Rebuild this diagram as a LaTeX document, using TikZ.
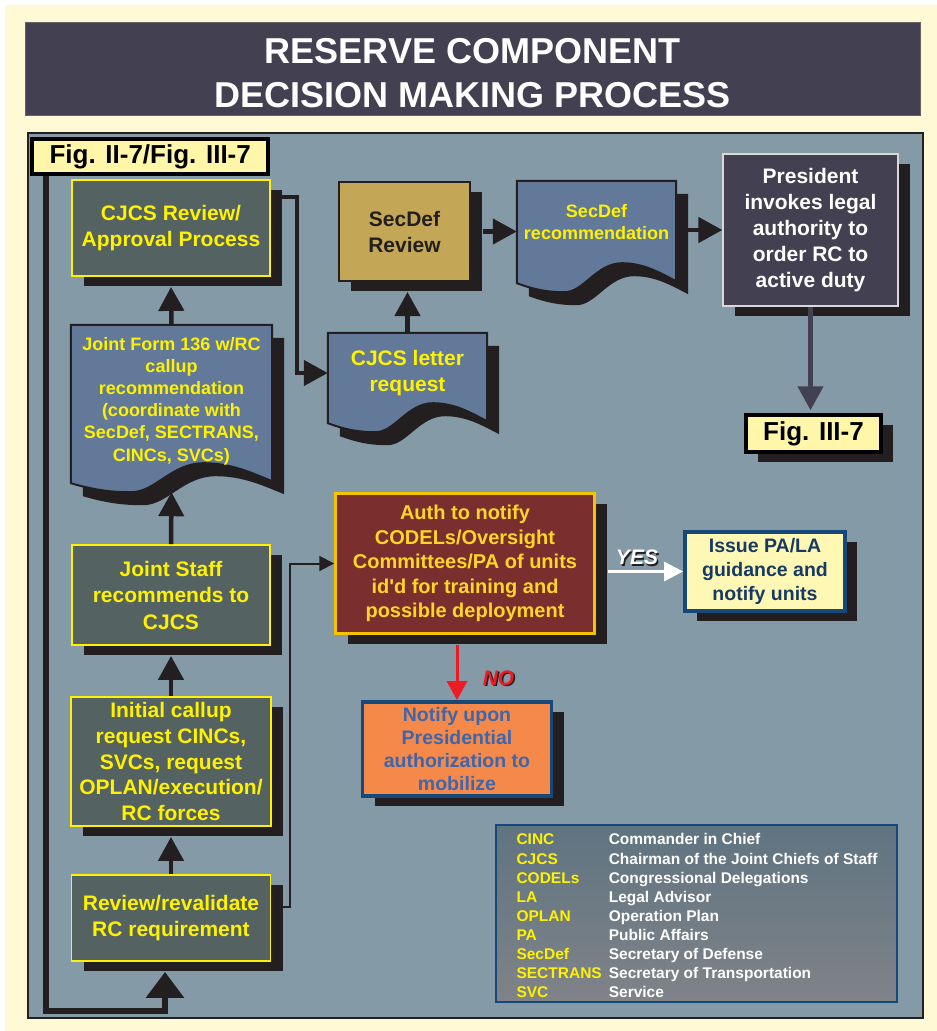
\documentclass[tikz,border=0pt]{standalone}
\usepackage{fontspec}
\setmainfont{Liberation Sans}
\usetikzlibrary{arrows.meta,calc,shadows}

\pgfdeclarelayer{backdrop}
\pgfdeclarelayer{docs}
\pgfsetlayers{backdrop,docs,main}

\definecolor{creambg}{RGB}{255,249,214}
\definecolor{panelc}{RGB}{133,154,167}
\definecolor{titlec}{RGB}{67,64,82}
\definecolor{boxgray}{RGB}{84,99,98}
\definecolor{docblue}{RGB}{98,121,153}
\definecolor{shadowc}{RGB}{35,31,32}
\definecolor{yel}{RGB}{255,242,0}
\definecolor{figyel}{RGB}{255,246,170}
\definecolor{secdefc}{RGB}{196,167,86}
\definecolor{maroon}{RGB}{122,46,46}
\definecolor{authline}{RGB}{245,196,0}
\definecolor{authtext}{RGB}{255,214,40}
\definecolor{navyc}{RGB}{22,72,122}
\definecolor{issuefill}{RGB}{255,248,180}
\definecolor{issuetext}{RGB}{22,58,100}
\definecolor{orangec}{RGB}{245,137,74}
\definecolor{notifytext}{RGB}{62,102,172}
\definecolor{legtop}{RGB}{95,116,129}
\definecolor{legbot}{RGB}{128,131,136}
\definecolor{noc}{RGB}{237,28,36}

% page with a wavy bottom: node, extra depth, x offset, y offset
\newcommand\docpath[4]{let \p1=(#1.north west), \p2=(#1.south east),
    \n1={\x2-\x1}, \n2={\y2-#2pt} in
  ({\x1+#3pt},{\y1+#4pt}) -- ({\x2+#3pt},{\y1+#4pt}) -- ({\x2+#3pt},{\n2*1pt+2pt+#4pt})
  .. controls ({\x1+0.9*\n1*1pt+#3pt},{\n2*1pt+10pt+#4pt}) and ({\x1+0.8*\n1*1pt+#3pt},{\n2*1pt+20pt+#4pt})
  .. ({\x1+0.66*\n1*1pt+#3pt},{\n2*1pt+20pt+#4pt})
  .. controls ({\x1+0.5*\n1*1pt+#3pt},{\n2*1pt+20pt+#4pt}) and ({\x1+0.42*\n1*1pt+#3pt},{\n2*1pt-9pt+#4pt})
  .. ({\x1+0.3*\n1*1pt+#3pt},{\n2*1pt-9pt+#4pt})
  .. controls ({\x1+0.2*\n1*1pt+#3pt},{\n2*1pt-9pt+#4pt}) and ({\x1+0.12*\n1*1pt+#3pt},{\n2*1pt-7pt+#4pt})
  .. ({\x1+#3pt},{\n2*1pt+#4pt}) -- cycle}

\begin{document}
\begin{tikzpicture}[x=1pt, y=-1pt,
    every node/.style={inner sep=0pt, align=center},
    boxshadow/.style={drop shadow={shadow xshift=12pt, shadow yshift=-10pt, fill=shadowc, opacity=1}},
    darkbox/.style={draw=yel, line width=1.8pt, fill=boxgray, text=yel, boxshadow,
      font=\bfseries\fontsize{21}{26.5}\selectfont},
    docbox/.style={text=yel, font=\bfseries\fontsize{18}{22.2}\selectfont},
    docshape/.style={draw=shadowc, line width=2pt, fill=docblue},
    figbox/.style={draw=black, line width=3.5pt, fill=figyel, font=\bfseries\fontsize{26}{30}\selectfont},
    flowarrow/.style={draw=shadowc, line width=4.5pt, -{Triangle[width=25pt,length=24pt]}},
    looparrow/.style={draw=shadowc, line width=6pt, -{Triangle[width=37pt,length=26pt]}},
    thinarrow/.style={draw=shadowc, line width=2pt, -{Triangle[width=15pt,length=15pt]}},
    slatearrow/.style={draw=titlec, line width=4.5pt, -{Triangle[width=25pt,length=24pt]}},
    yesarrow/.style={draw=white, line width=3pt, -{Triangle[width=19pt,length=19pt]}},
    noarrow/.style={draw=noc, line width=3pt, -{Triangle[width=20pt,length=19pt]}},
    yesno/.style={font=\bfseries\itshape\fontsize{21}{24}\selectfont}
  ]
  \useasboundingbox (0,0) rectangle (937,1031);
  \begin{pgfonlayer}{backdrop}
    \fill[white] (0,0) rectangle (937,1031);
    \fill[creambg] (5,5) rectangle (937,1031);
    \filldraw[fill=panelc, draw=shadowc, line width=1.5pt] (28,133) rectangle (923,1018);
  \end{pgfonlayer}

  \node[fill=titlec, draw=shadowc!70, line width=1pt, minimum width=895pt, minimum height=93pt] (title) at (472.5,68.5) {};
  \node[text=white, font=\bfseries\fontsize{36}{43.4}\selectfont] (titletext) at (472.5,73)
    {RESERVE COMPONENT\\DECISION MAKING PROCESS};

  \node[figbox, minimum width=236pt, minimum height=35pt] (figtop) at (150.2,156.5) {Fig. II-7/Fig. III-7};

  \node[darkbox, minimum width=198pt, minimum height=96pt] (cjcsrev) at (171,228) {CJCS Review/\\Approval Process};
  \node[docbox, minimum width=201pt, minimum height=152pt] (jform) at (171.5,401)
    {Joint Form 136 w/RC\\callup\\recommendation\\(coordinate with\\SecDef, SECTRANS,\\CINCs, SVCs)};
  \node[darkbox, minimum width=198pt, minimum height=100pt] (jstaff) at (171,595) {Joint Staff\\recommends to\\CJCS};
  \node[darkbox, minimum width=200pt, minimum height=129pt, font=\bfseries\fontsize{21}{25.8}\selectfont] (initial) at (171,761.5)
    {Initial callup\\request CINCs,\\SVCs, request\\OPLAN/execution/\\RC forces};
  \node[darkbox, minimum width=199pt, minimum height=86pt] (review) at (171,918) {Review/revalidate\\RC requirement};

  \node[draw=shadowc, line width=2pt, fill=secdefc, text=shadowc, boxshadow, minimum width=131pt, minimum height=99pt,
    font=\bfseries\fontsize{21}{26}\selectfont] (secrev) at (404.5,231.5) {SecDef\\Review};
  \node[docbox, font=\bfseries\fontsize{21}{25.7}\selectfont, minimum width=159pt, minimum height=80pt] (letter) at (407.5,373)
    {CJCS letter\\request};
  \node[docbox, font=\bfseries\fontsize{18}{22}\selectfont, minimum width=159pt, minimum height=82pt] (secrec) at (596.5,222)
    {SecDef\\recommendation};
  \node[draw=black!15, line width=1.2pt, fill=titlec, text=white, boxshadow, minimum width=175pt, minimum height=152pt,
    font=\bfseries\fontsize{21}{26}\selectfont] (pres) at (810.5,230)
    {President\\invokes legal\\authority to\\order RC to\\active duty};
  \node[figbox, boxshadow, minimum width=135pt, minimum height=37pt] (fig3) at (813.5,433.5) {Fig. III-7};

  \node[draw=authline, line width=2.5pt, fill=maroon, text=authtext, boxshadow, minimum width=259pt, minimum height=140pt,
    font=\bfseries\fontsize{20}{24.6}\selectfont] (auth) at (465,563.5)
    {Auth to notify\\CODELs/Oversight\\Committees/PA of units\\id\textquotesingle d for training and\\possible deployment};
  \node[draw=navyc, line width=3.8pt, fill=issuefill, text=issuetext, boxshadow, minimum width=160pt, minimum height=79pt,
    font=\bfseries\fontsize{19.5}{24}\selectfont] (issue) at (765,571.5) {Issue PA/LA\\guidance and\\notify units};
  \node[draw=navyc, line width=3.8pt, fill=orangec, text=notifytext, boxshadow, minimum width=189pt, minimum height=94pt,
    font=\bfseries\fontsize{19.5}{23}\selectfont] (notify) at (457,749)
    {Notify upon\\Presidential\\authorization to\\mobilize};

  \node[yesno, text=shadowc] (yesshade) at (638.5,559) {YES};
  \node[yesno, text=white] (yes) at (637,557.5) {YES};
  \node[yesno, text=shadowc] (noshade) at (500,679.5) {NO};
  \node[yesno, text=noc] (no) at (498.5,678) {NO};

  \node[draw=navyc, line width=1.2pt, top color=legtop, bottom color=legbot,
    minimum width=401pt, minimum height=177pt] (legend) at (696.5,913.5) {};
  \node[text=white, font=\bfseries\fontsize{15.5}{19.1}\selectfont] (legendtext) at (697,917.5) {%
    \begin{tabular}{@{}l@{\hspace{7pt}}l@{}}
      \textcolor{yel}{CINC} & Commander in Chief\\
      \textcolor{yel}{CJCS} & Chairman of the Joint Chiefs of Staff\\
      \textcolor{yel}{CODELs} & Congressional Delegations\\
      \textcolor{yel}{LA} & Legal Advisor\\
      \textcolor{yel}{OPLAN} & Operation Plan\\
      \textcolor{yel}{PA} & Public Affairs\\
      \textcolor{yel}{SecDef} & Secretary of Defense\\
      \textcolor{yel}{SECTRANS} & Secretary of Transportation\\
      \textcolor{yel}{SVC} & Service
    \end{tabular}};

  \begin{pgfonlayer}{docs}
    \foreach \d/\e in {jform/6, letter/10, secrec/20} {
      \fill[shadowc] \docpath{\d}{\e}{12}{-13};
      \filldraw[docshape] \docpath{\d}{\e}{0}{0};
    }
  \end{pgfonlayer}

  \draw[flowarrow] (review.north) -- ($(initial.south)+(0,10)$);
  \draw[flowarrow] (initial.north) -- ($(jstaff.south)+(0,10)$);
  \draw[flowarrow] (jstaff.north) -- ($(jform.south)+(0,15)$);
  \draw[flowarrow] (jform.north) -- ($(cjcsrev.south)+(0,10)$);
  \draw[looparrow] ($(figtop.south west)+(16,0)$) -- ++(0,835) -| ($(review.south)+(-6,10)$);

  \draw[flowarrow] ($(cjcsrev.east)+(0,-31)$) -- ++(26,0) |- (letter.west);
  \draw[flowarrow] (letter.north) -- ($(letter.north |- secrev.south)+(0,10)$);
  \draw[flowarrow] ($(secrev.east)+(12,0)$) -- (secrec.west |- secrev.east);
  \draw[flowarrow] ($(secrec.east |- pres.west)+(12,0)$) -- (pres.west);
  \draw[slatearrow] (pres.south) -- ($(pres.south |- fig3.north)+(0,-3)$);

  \draw[thinarrow] ($(review.east)+(0,-11)$) -- ++(19,0) |- (auth.west);
  \draw[yesarrow] ($(auth.east |- issue.west)+(12,0)$) -- (issue.west);
  \draw[noarrow] ($(auth.south -| notify.north)+(0,10)$) -- (notify.north);
\end{tikzpicture}
\end{document}
